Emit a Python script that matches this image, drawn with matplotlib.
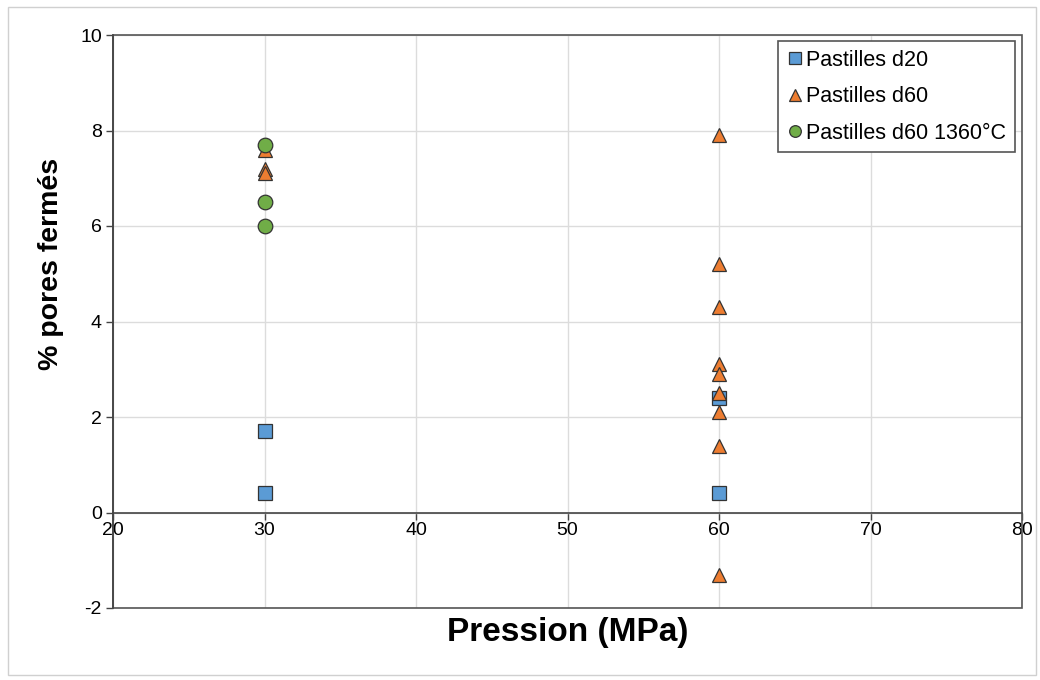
import numpy as np
import matplotlib.pyplot as plt
from matplotlib.patches import Rectangle

plt.rcParams['font.family'] = ['Liberation Sans', 'DejaVu Sans']
plt.rcParams['axes.unicode_minus'] = False

# Données
x_d20 = [30, 30, 60, 60]
y_d20 = [1.7, 0.4, 2.4, 0.4]

x_d60 = [30, 30, 30, 60, 60, 60, 60, 60, 60, 60, 60, 60]
y_d60 = [7.6, 7.2, 7.1, 7.9, 5.2, 4.3, 3.1, 2.9, 2.5, 2.1, 1.4, -1.3]

x_d60_1360 = [30, 30, 30]
y_d60_1360 = [7.7, 6.5, 6.0]

x_ticks = [20, 30, 40, 50, 60, 70, 80]
y_ticks = [-2, 0, 2, 4, 6, 8, 10]

fig = plt.figure(figsize=(10.4, 6.8), dpi=100)
ax = fig.add_axes([113/1040, 1 - 608/680, (1022 - 113)/1040, (608 - 35)/680])

# cadre extérieur de la figure
fig.patches.append(Rectangle((8/1040, 5/680), 1028/1040, 668/680, transform=fig.transFigure,
                             fill=False, edgecolor='#d0d0d0', lw=1))

ax.set_xlim(20, 80)
ax.set_ylim(-2, 10)
ax.set_xticks(x_ticks)
ax.set_yticks(y_ticks)
ax.grid(True, color='#dcdcdc', lw=1)
ax.set_axisbelow(True)

# axe horizontal à y = 0 (style Excel)
for s in ['top', 'right']:
    ax.spines[s].set_visible(False)
ax.spines['bottom'].set_position(('data', 0))
ax.spines['bottom'].set_color('#444444')
ax.spines['left'].set_color('#444444')
ax.spines['bottom'].set_linewidth(1.2)
ax.spines['left'].set_linewidth(1.2)
ax.add_patch(Rectangle((0, 0), 1, 1, transform=ax.transAxes, fill=False,
                       edgecolor='#555555', lw=1.2, clip_on=False, zorder=1))

ax.tick_params(axis='both', direction='out', length=5, width=1, color='#444444',
               labelsize=14, colors='black')
ax.tick_params(axis='x', pad=2)
ax.tick_params(axis='y', pad=3)

mk = dict(linestyle='none', markeredgecolor='#333333', markeredgewidth=0.9, markersize=10.5, zorder=3)
ax.plot(x_d20, y_d20, marker='s', color='#5b9bd5', label='Pastilles d20', **mk)
ax.plot(x_d60, y_d60, marker='^', color='#ed7d31', label='Pastilles d60', **mk)
ax.plot(x_d60_1360, y_d60_1360, marker='o', color='#70ad47', label='Pastilles d60 1360°C', **mk)

leg = ax.legend(loc='upper right', bbox_to_anchor=(0.9923, 0.9895), fontsize=15.5,
                fancybox=False, framealpha=1, edgecolor='#555555', handlelength=0.7,
                handletextpad=0.2, borderaxespad=0, labelspacing=0.72, markerscale=0.8,
                borderpad=0.4)
leg.get_frame().set_linewidth(1.2)

ax.set_xlabel('Pression (MPa)', fontsize=24, fontweight='bold')
ax.xaxis.set_label_coords(0.5, -0.016)
ax.set_ylabel('% pores fermés', fontsize=20.5, fontweight='bold')
ax.yaxis.set_label_coords(-0.054, 0.6)

fig.savefig('out.png', dpi=100)
